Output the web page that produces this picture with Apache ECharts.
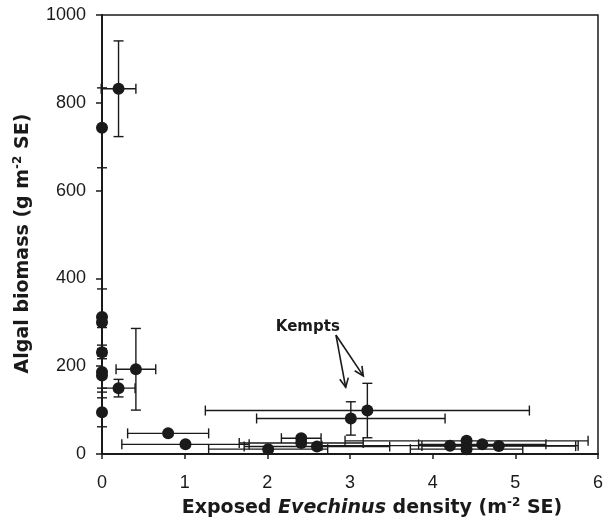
<!DOCTYPE html>
<html><head><meta charset="utf-8">
<script src="https://cdn.jsdelivr.net/npm/echarts/dist/echarts.min.js"></script>
<style>html,body{margin:0;padding:0;background:#fff}#c{width:608px;height:520px}</style>
</head><body><div id="c"></div>
<script>
// ---- data ----
const xValues = [0, 0, 0, 0, 0, 0, 0, 0.2, 0.2, 0.41, 0.8, 1.01, 2.01, 2.41, 2.41, 2.6, 3.01, 3.21, 4.21, 4.41, 4.41, 4.6, 4.8];
const yValues = [743, 312, 300, 232, 187, 179, 95, 832, 150, 193, 47, 22, 11, 36, 25, 17, 81, 99, 19, 30, 11, 22, 18];
const xErrors = [0, 0, 0, 0, 0, 0, 0, 0.21, 0.2, 0.24, 0.49, 0.77, 0.72, 0.24, 0.75, 0.88, 1.14, 1.96, 1.55, 1.47, 0.68, 0.77, 0.93];
const yErrors = [91, 64, 12, 8, 37, 38, 33, 109, 20, 93, 5, 4, 4, 6, 5, 4, 38, 62, 4, 5, 4, 4, 4];
const xTickValues = [0, 1, 2, 3, 4, 5, 6];
const xTickLabels = ['0', '1', '2', '3', '4', '5', '6'];
const yTickValues = [0, 200, 400, 600, 800, 1000];
const yTickLabels = ['0', '200', '400', '600', '800', '1000'];
const annotationLabel = 'Kempts';
const annotationAnchor = [2.49, 289];
const annotationArrowStart = [2.83, 271];
const annotationArrowTips = [[2.948, 152], [3.161, 178]];

const INK = '#1a1a1a';
const FONT = '"DejaVu Sans", "Liberation Sans", Arial, sans-serif';
const TICKFONT = '"Liberation Sans", Arial, sans-serif';

const points = xValues.map((x, i) => [x, yValues[i], xErrors[i], yErrors[i]]);

function renderErr(params, api) {
  const x = api.value(0), y = api.value(1), xe = api.value(2), ye = api.value(3);
  const st = { stroke: INK, lineWidth: 1.4 };
  const cap = 5;
  const ch = [];
  if (xe > 0) {
    const l = api.coord([x - xe, y]), r = api.coord([x + xe, y]);
    ch.push({ type: 'line', shape: { x1: l[0], y1: l[1], x2: r[0], y2: r[1] }, style: st });
    ch.push({ type: 'line', shape: { x1: l[0], y1: l[1] - cap, x2: l[0], y2: l[1] + cap }, style: st });
    ch.push({ type: 'line', shape: { x1: r[0], y1: r[1] - cap, x2: r[0], y2: r[1] + cap }, style: st });
  }
  if (ye > 0) {
    const t = api.coord([x, y + ye]), b = api.coord([x, y - ye]);
    ch.push({ type: 'line', shape: { x1: t[0], y1: t[1], x2: b[0], y2: b[1] }, style: st });
    ch.push({ type: 'line', shape: { x1: t[0] - cap, y1: t[1], x2: t[0] + cap, y2: t[1] }, style: st });
    ch.push({ type: 'line', shape: { x1: b[0] - cap, y1: b[1], x2: b[0] + cap, y2: b[1] }, style: st });
  }
  return { type: 'group', children: ch };
}

function renderAnnot(params, api) {
  const ch = [];
  const a = api.coord(annotationAnchor);
  ch.push({ type: 'text', style: { text: annotationLabel, x: a[0], y: a[1], align: 'center', verticalAlign: 'middle', font: 'bold 15px ' + FONT, fill: INK } });
  const s = api.coord(annotationArrowStart);
  const st = { stroke: INK, lineWidth: 1.6, fill: null };
  annotationArrowTips.forEach(tp => {
    const t = api.coord(tp);
    ch.push({ type: 'line', shape: { x1: s[0], y1: s[1], x2: t[0], y2: t[1] }, style: st });
    const ang = Math.atan2(s[1] - t[1], s[0] - t[0]);
    const L = 10, sp = 0.45;
    const p1 = [t[0] + L * Math.cos(ang + sp), t[1] + L * Math.sin(ang + sp)];
    const p2 = [t[0] + L * Math.cos(ang - sp), t[1] + L * Math.sin(ang - sp)];
    ch.push({ type: 'polyline', shape: { points: [p1, t, p2] }, style: st });
  });
  return { type: 'group', children: ch };
}

const chart = echarts.init(document.getElementById('c'), null, { renderer: 'canvas' });
function nameStyle(pad) {
  return {
    fontFamily: FONT, fontWeight: 'bold', fontSize: 19, color: INK, lineHeight: 23, padding: pad,
    rich: {
      it: { fontFamily: FONT, fontWeight: 'bold', fontStyle: 'italic', fontSize: 19, color: INK, lineHeight: 23 },
      sup: { fontFamily: FONT, fontWeight: 'bold', fontSize: 12, color: INK, verticalAlign: 'top', lineHeight: 23 }
    }
  };
}
chart.setOption({
  animation: false,
  backgroundColor: '#fff',
  grid: { left: 102, right: 10, top: 15, bottom: 66, containLabel: false, outerBoundsMode: 'none',
    show: true, borderColor: INK, borderWidth: 1.5, backgroundColor: 'transparent' },
  xAxis: {
    type: 'value', min: xTickValues[0], max: xTickValues[xTickValues.length - 1], interval: 1,
    axisLine: { show: true, onZero: false, lineStyle: { color: INK, width: 2 } },
    axisTick: { show: true, inside: false, length: 5, lineStyle: { color: INK, width: 1.5 } },
    splitLine: { show: false },
    axisLabel: { fontFamily: TICKFONT, fontSize: 18, color: INK, margin: 20,
      formatter: v => { const i = xTickValues.indexOf(v); return i >= 0 ? xTickLabels[i] : ''; } },
    name: 'Exposed {it|Evechinus} density (m{sup|-2} SE)', nameLocation: 'middle', nameGap: 42,
    nameTextStyle: nameStyle([0, 0, 0, 44])
  },
  yAxis: {
    type: 'value', min: yTickValues[0], max: yTickValues[yTickValues.length - 1], interval: 200,
    axisLine: { show: true, onZero: false, lineStyle: { color: INK, width: 2 } },
    axisTick: { show: true, inside: false, length: 6, lineStyle: { color: INK, width: 1.5 } },
    splitLine: { show: false },
    axisLabel: { fontFamily: TICKFONT, fontSize: 18, color: INK, margin: 16,
      formatter: v => { const i = yTickValues.indexOf(v); return i >= 0 ? yTickLabels[i] : ''; } },
    name: 'Algal biomass (g m{sup|-2} SE)', nameLocation: 'middle', nameGap: 54,
    nameTextStyle: nameStyle([0, 18, 0, 0])
  },
  series: [
    { type: 'custom', renderItem: renderErr, data: points, encode: { x: 0, y: 1 }, clip: false, z: 2, silent: true },
    { type: 'scatter', data: points.map(p => [p[0], p[1]]), symbol: 'circle', symbolSize: 12,
      itemStyle: { color: INK, opacity: 1 }, clip: false, z: 3, silent: true },
    { type: 'custom', renderItem: renderAnnot, data: [[0, 0]], encode: { x: 0, y: 1 }, clip: false, z: 4, silent: true }
  ]
});
</script>
</body></html>
